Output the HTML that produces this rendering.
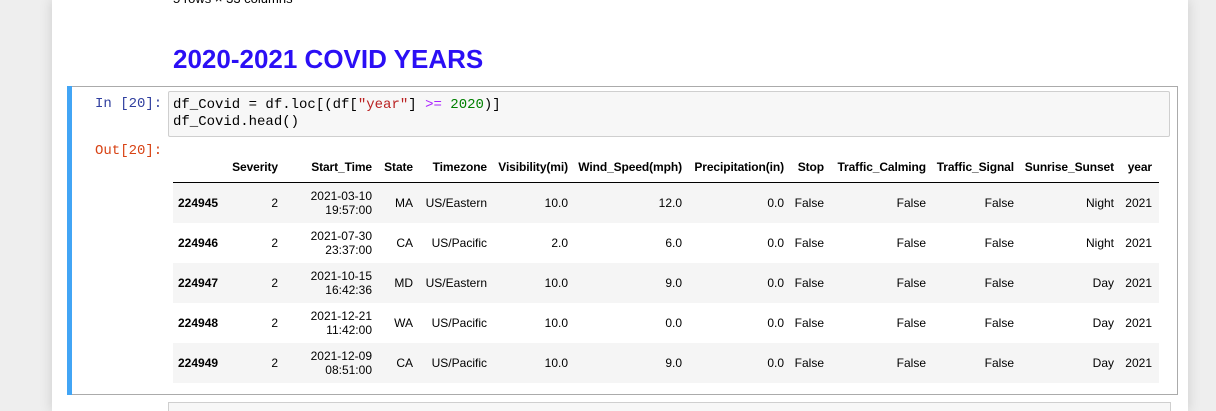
<!DOCTYPE html>
<html><head><meta charset="utf-8"><style>
html,body{margin:0;width:1216px;height:411px;overflow:hidden}
body{background:#eeeeee;font-family:"Liberation Sans",Arial,sans-serif;position:relative}
.nb{position:absolute;left:52px;top:0;width:1136px;height:411px;background:#fff;box-shadow:0 0 12px rgba(0,0,0,.15)}
.abs{position:absolute}
.mono{font-family:"Liberation Mono",monospace;font-size:14px;line-height:17px}
table{position:absolute;left:173px;top:152px;border-collapse:collapse;font-size:12px;color:#000;table-layout:fixed;width:986px}
th,td{padding:0 5px 0 5px;text-align:right;white-space:nowrap;overflow:visible}
thead th{height:30px;vertical-align:middle;border-bottom:1px solid #000;font-weight:bold;letter-spacing:-0.1px}
tbody td,tbody th{height:40px;vertical-align:middle;line-height:14px}
tbody tr:nth-child(odd){background:#f5f5f5}
tbody th{text-align:left;font-weight:bold}
.yr{padding-right:7px}
</style></head><body>
<div class="nb"></div>
<div class="abs" style="left:173px;top:-9px;font-size:13px;color:#000">5 rows × 33 columns</div>
<div class="abs" style="left:173px;top:44px;font-size:26px;font-weight:bold;color:#2b0ff5">2020-2021 COVID YEARS</div>
<div class="abs" style="left:67px;top:86px;width:1109px;height:307px;border:1px solid #ababab"></div>
<div class="abs" style="left:67px;top:86px;width:5px;height:309px;background:#42a5f5"></div>
<div class="abs mono" style="left:95px;top:96px;color:#303f9f">In [20]:</div>
<div class="abs mono" style="left:168px;top:91px;width:1000px;height:44px;border:1px solid #cfcfcf;background:#f7f7f7;border-radius:2px">
<div style="padding:5px 4px">df_Covid = df.loc[(df[<span style="color:#ba2121">"year"</span>] <span style="color:#aa22ff">&gt;=</span> <span style="color:#008000">2020</span>)]<br>df_Covid.head()</div></div>
<div class="abs mono" style="left:95px;top:143px;color:#d84315">Out[20]:</div>
<table>
<colgroup><col style="width:54px"><col style="width:56px"><col style="width:94px"><col style="width:41px"><col style="width:74px"><col style="width:81px"><col style="width:114px"><col style="width:102px"><col style="width:40px"><col style="width:102px"><col style="width:88px"><col style="width:100px"><col style="width:40px"></colgroup>
<thead><tr>
<th></th><th>Severity</th><th>Start_Time</th><th>State</th><th>Timezone</th><th>Visibility(mi)</th><th>Wind_Speed(mph)</th><th>Precipitation(in)</th><th>Stop</th><th>Traffic_Calming</th><th>Traffic_Signal</th><th>Sunrise_Sunset</th><th class="yr">year</th>
</tr></thead>
<tbody>
<tr><th>224945</th><td>2</td><td>2021-03-10<br>19:57:00</td><td>MA</td><td>US/Eastern</td><td>10.0</td><td>12.0</td><td>0.0</td><td>False</td><td>False</td><td>False</td><td>Night</td><td class="yr">2021</td></tr>
<tr><th>224946</th><td>2</td><td>2021-07-30<br>23:37:00</td><td>CA</td><td>US/Pacific</td><td>2.0</td><td>6.0</td><td>0.0</td><td>False</td><td>False</td><td>False</td><td>Night</td><td class="yr">2021</td></tr>
<tr><th>224947</th><td>2</td><td>2021-10-15<br>16:42:36</td><td>MD</td><td>US/Eastern</td><td>10.0</td><td>9.0</td><td>0.0</td><td>False</td><td>False</td><td>False</td><td>Day</td><td class="yr">2021</td></tr>
<tr><th>224948</th><td>2</td><td>2021-12-21<br>11:42:00</td><td>WA</td><td>US/Pacific</td><td>10.0</td><td>0.0</td><td>0.0</td><td>False</td><td>False</td><td>False</td><td>Day</td><td class="yr">2021</td></tr>
<tr><th>224949</th><td>2</td><td>2021-12-09<br>08:51:00</td><td>CA</td><td>US/Pacific</td><td>10.0</td><td>9.0</td><td>0.0</td><td>False</td><td>False</td><td>False</td><td>Day</td><td class="yr">2021</td></tr>
</tbody></table>
<div class="abs" style="left:168px;top:402px;width:1001px;height:20px;border:1px solid #cfcfcf;background:#f7f7f7"></div>
</body></html>
